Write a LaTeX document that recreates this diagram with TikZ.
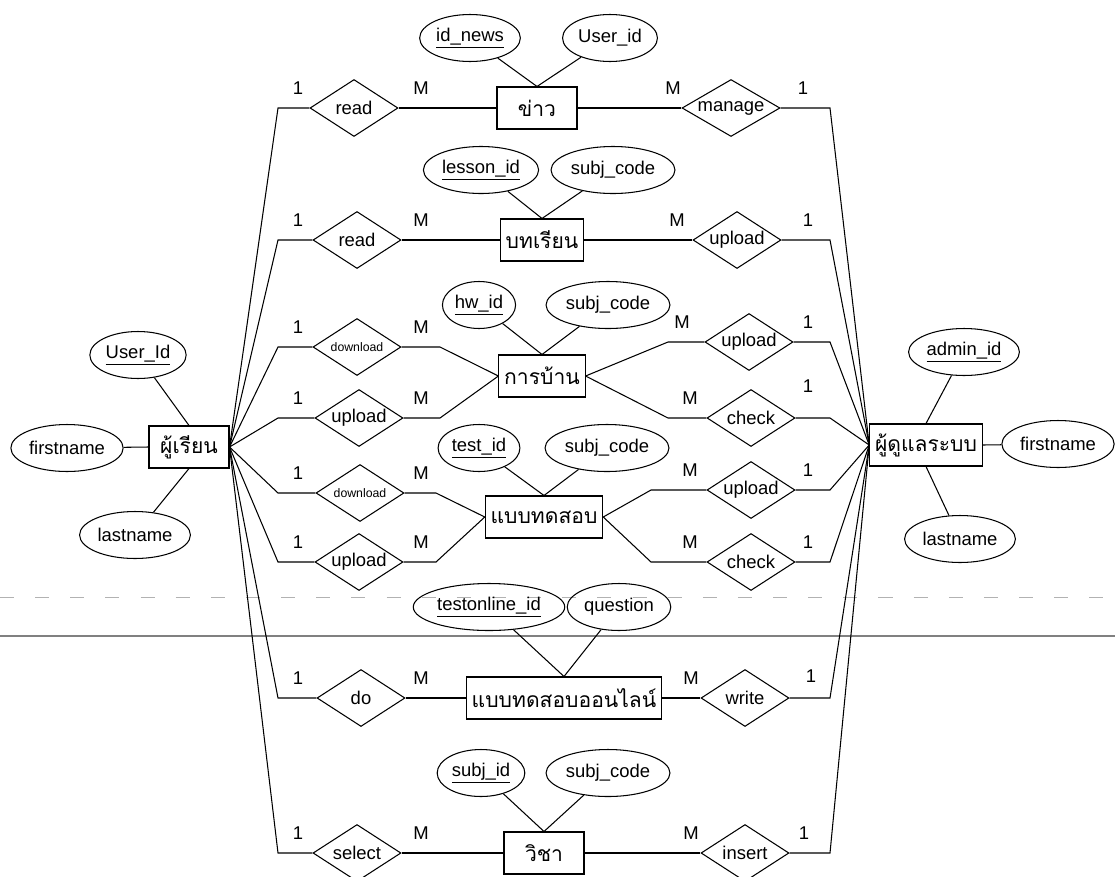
\documentclass[tikz,border=0pt]{standalone}
\usepackage{fontspec}
\setmainfont{Liberation Sans}
\newfontfamily\thaifont[Script=Thai]{Loma}
\usetikzlibrary{shapes.geometric}
\tikzset{
  entity/.style={draw, rectangle, minimum width=1.6cm, minimum height=0.84cm, inner xsep=3pt, font=\thaifont\fontsize{12}{14}\selectfont},
  attr/.style={draw, ellipse, minimum height=0.94cm, inner xsep=1pt, inner ysep=0pt, font=\fontsize{10.5}{12}\selectfont},
  rel/.style={draw, diamond, aspect=1.55, minimum width=1.76cm, minimum height=1.14cm, inner sep=0pt, font=\fontsize{10.5}{12}\selectfont},
  smalltext/.style={font=\fontsize{7}{8}\selectfont},
  card/.style={font=\fontsize{10.5}{12}\selectfont, inner sep=1pt},
}

\begin{document}
\begin{tikzpicture}[x=0.02cm, y=-0.02cm, line width=0.6pt]
		%%%%% START %%%%%
		\useasboundingbox (0,0) rectangle (1115,876);
		
		\draw[gray!60, line width=0.5pt, dash pattern=on 8pt off 12pt] (0,597) -- (1115,597);
		\draw[gray, line width=0.9pt] (0,636) -- (1115,636);
		
		\coordinate (lcol) at (278,0);
		\coordinate (rcol) at (830,0);
		\coordinate (hwL) at (440,0);
		\coordinate (hwR) at (668,0);
		\coordinate (testL) at (436,0);
		\coordinate (testR) at (651,0);
		
		% entities
		\node[entity] (stu) at (189,447) {ผู้เรียน};
		\node[entity] (adm) at (926,445) {ผู้ดูแลระบบ};
		\node[entity] (news) at (537,108) {ข่าว};
		\node[entity] (lesson) at (542,240) {บทเรียน};
		\node[entity] (hw) at (542,376) {การบ้าน};
		\node[entity] (test) at (544,517) {แบบทดสอบ};
		\node[entity] (online) at (564,698) {แบบทดสอบออนไลน์};
		\node[entity] (subj) at (544,853) {วิชา};
		
		% attributes
		\node[attr] (stuId) at (138,355) {\underline{User\_Id}};
		\node[attr] (stuFn) at (67,448) {firstname};
		\node[attr] (stuLn) at (135,535) {lastname};
		\node[attr] (admId) at (964,352) {\underline{admin\_id}};
		\node[attr] (admFn) at (1058,444) {firstname};
		\node[attr] (admLn) at (960,539) {lastname};
		\node[attr] (newsId) at (470,38) {\underline{id\_news}};
		\node[attr] (newsUid) at (610,38) {User\_id};
		\node[attr] (lesId) at (481,170) {\underline{lesson\_id}};
		\node[attr] (lesCode) at (613,170) {subj\_code};
		\node[attr] (hwId) at (479,305) {\underline{hw\_id}};
		\node[attr] (hwCode) at (608,305) {subj\_code};
		\node[attr] (testId) at (479,448) {\underline{test\_id}};
		\node[attr] (testCode) at (607,448) {subj\_code};
		\node[attr] (onId) at (489,607) {\underline{testonline\_id}};
		\node[attr] (onQ) at (619,607) {question};
		\node[attr] (subjId) at (481,773) {\underline{subj\_id}};
		\node[attr] (subjCode) at (608,773) {subj\_code};
		
		\draw (stuId) -- (stu.north);
		\draw (stuFn) -- (stu.west);
		\draw (stuLn) -- (stu.south);
		\draw (admId) -- (adm.north);
		\draw (admFn) -- (adm.east);
		\draw (admLn) -- (adm.south);
		\draw (newsId) -- (news.north);
		\draw (newsUid) -- (news.north);
		\draw (lesId) -- (lesson.north);
		\draw (lesCode) -- (lesson.north);
		\draw (hwId) -- (hw.north);
		\draw (hwCode) -- (hw.north);
		\draw (testId) -- (test.north);
		\draw (testCode) -- (test.north);
		\draw (onId) -- (online.north);
		\draw (onQ) -- (online.north);
		\draw (subjId) -- (subj.north);
		\draw (subjCode) -- (subj.north);
		
		% relationships
		\node[rel] (rdNews) at (354,108) {read};
		\node[rel, minimum width=1.96cm] (mgNews) at (731,108) {manage};
		\node[rel] (rdLes) at (357,240) {read};
		\node[rel] (upLes) at (737,240) {upload};
		\node[rel, smalltext] (dlHw) at (357,347) {download};
		\node[rel] (upHw) at (359,418) {upload};
		\node[rel] (upHwA) at (749,342) {upload};
		\node[rel] (ckHw) at (751,418) {check};
		\node[rel, smalltext] (dlTest) at (360,493) {download};
		\node[rel] (upTest) at (359,562) {upload};
		\node[rel] (upTestA) at (751,490) {upload};
		\node[rel] (ckTest) at (751,562) {check};
		\node[rel] (doOn) at (361,698) {do};
		\node[rel] (wrOn) at (745,698) {write};
		\node[rel] (selSubj) at (357,853) {select};
		\node[rel] (insSubj) at (745,853) {insert};
		
		% student side
		\draw (stu.east) -- (rdNews.west -| lcol) -- (rdNews.west);
		\draw (stu.east) -- (rdLes.west -| lcol) -- (rdLes.west);
		\draw (stu.east) -- (dlHw.west -| lcol) -- (dlHw.west);
		\draw (stu.east) -- (upHw.west -| lcol) -- (upHw.west);
		\draw (stu.east) -- (dlTest.west -| lcol) -- (dlTest.west);
		\draw (stu.east) -- (upTest.west -| lcol) -- (upTest.west);
		\draw (stu.east) -- (doOn.west -| lcol) -- (doOn.west);
		\draw (stu.east) -- (selSubj.west -| lcol) -- (selSubj.west);
		
		% admin side
		\draw (adm.west) -- (mgNews.east -| rcol) -- (mgNews.east);
		\draw (adm.west) -- (upLes.east -| rcol) -- (upLes.east);
		\draw (adm.west) -- (upHwA.east -| rcol) -- (upHwA.east);
		\draw (adm.west) -- (ckHw.east -| rcol) -- (ckHw.east);
		\draw (adm.west) -- (upTestA.east -| rcol) -- (upTestA.east);
		\draw (adm.west) -- (ckTest.east -| rcol) -- (ckTest.east);
		\draw (adm.west) -- (wrOn.east -| rcol) -- (wrOn.east);
		\draw (adm.west) -- (insSubj.east -| rcol) -- (insSubj.east);
		
		% middle
		\draw (rdNews.east) -- (news.west);
		\draw (news.east) -- (mgNews.west);
		\draw (rdLes.east) -- (lesson.west);
		\draw (lesson.east) -- (upLes.west);
		\draw (dlHw.east) -- (dlHw.east -| hwL) -- (hw.west);
		\draw (upHw.east) -- (upHw.east -| hwL) -- (hw.west);
		\draw (hw.east) -- (upHwA.west -| hwR) -- (upHwA.west);
		\draw (hw.east) -- (ckHw.west -| hwR) -- (ckHw.west);
		\draw (dlTest.east) -- (dlTest.east -| testL) -- (test.west);
		\draw (upTest.east) -- (upTest.east -| testL) -- (test.west);
		\draw (test.east) -- (upTestA.west -| testR) -- (upTestA.west);
		\draw (test.east) -- (ckTest.west -| testR) -- (ckTest.west);
		\draw (doOn.east) -- (online.west);
		\draw (online.east) -- (wrOn.west);
		\draw (selSubj.east) -- (subj.west);
		\draw (subj.east) -- (insSubj.west);
		
		% cardinalities
		\node[card] (kA1) at (298,88) {1};
		\node[card] (kAM) at (421,88) {M};
		\node[card] (kAM2) at (673,88) {M};
		\node[card] (kA2) at (803,88) {1};
		\node[card] (kB1) at (298,220) {1};
		\node[card] (kBM) at (421,220) {M};
		\node[card] (kBM2) at (677,220) {M};
		\node[card] (kB2) at (808,220) {1};
		\node[card] (kC1) at (298,327) {1};
		\node[card] (kCM) at (421,327) {M};
		\node[card] (kD1) at (298,398) {1};
		\node[card] (kDM) at (421,398) {M};
		\node[card] (kCM2) at (682,322) {M};
		\node[card] (kC2) at (808,322) {1};
		\node[card] (kDM2) at (690,398) {M};
		\node[card] (kD2) at (808,386) {1};
		\node[card] (kE1) at (298,473) {1};
		\node[card] (kEM) at (421,473) {M};
		\node[card] (kF1) at (298,542) {1};
		\node[card] (kFM) at (421,542) {M};
		\node[card] (kEM2) at (690,470) {M};
		\node[card] (kE2) at (808,470) {1};
		\node[card] (kFM2) at (690,542) {M};
		\node[card] (kF2) at (808,542) {1};
		\node[card] (kG1) at (298,678) {1};
		\node[card] (kGM) at (421,678) {M};
		\node[card] (kGM2) at (691,678) {M};
		\node[card] (kG2) at (811,676) {1};
		\node[card] (kH1) at (298,833) {1};
		\node[card] (kHM) at (421,833) {M};
		\node[card] (kHM2) at (691,833) {M};
		\node[card] (kH2) at (804,833) {1};
		
		%%%%% END %%%%%
	\end{tikzpicture}
\end{document}
